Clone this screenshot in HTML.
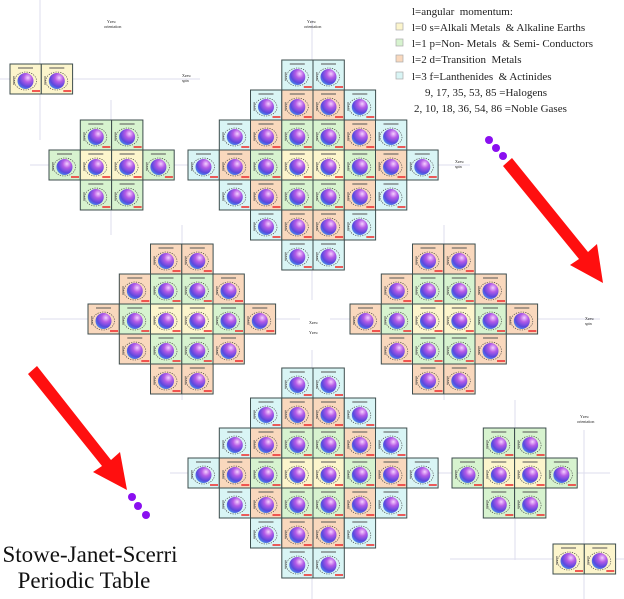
<!DOCTYPE html>
<html><head><meta charset="utf-8"><style>
html,body{margin:0;padding:0;background:#fff;width:624px;height:599px;overflow:hidden}
svg{display:block}
</style></head><body>
<svg width="624" height="599" viewBox="0 0 624 599" xmlns="http://www.w3.org/2000/svg" xmlns:xlink="http://www.w3.org/1999/xlink">
<defs>
<radialGradient id="g" cx="0.65" cy="0.3" r="0.75"><stop offset="0" stop-color="#f6d0ff"/><stop offset="0.35" stop-color="#b45be6"/><stop offset="0.75" stop-color="#5a48de"/><stop offset="1" stop-color="#4a8ae8"/></radialGradient>
<g id="blob">
<ellipse cx="15.5" cy="17" rx="11" ry="9" fill="none" stroke="#333" stroke-width="0.6" stroke-dasharray="1.2 1.2"/>
<circle cx="15.5" cy="17" r="8" fill="url(#g)"/>
<rect x="8" y="3" width="15" height="2" fill="#555" opacity="0.5"/>
<rect x="22" y="26" width="8" height="2" fill="#e33" opacity="0.8"/>
<rect x="3" y="12" width="1.5" height="9" fill="#444" opacity="0.5"/>
</g>
<symbol id="C" overflow="visible"><rect x="0" y="0" width="31.3" height="30" fill="#d9f5f5" stroke="#3d4d4d" stroke-width="1"/><use xlink:href="#blob"/></symbol>
<symbol id="O" overflow="visible"><rect x="0" y="0" width="31.3" height="30" fill="#f9d8bd" stroke="#3d4d4d" stroke-width="1"/><use xlink:href="#blob"/></symbol>
<symbol id="G" overflow="visible"><rect x="0" y="0" width="31.3" height="30" fill="#d7f3cf" stroke="#3d4d4d" stroke-width="1"/><use xlink:href="#blob"/></symbol>
<symbol id="Y" overflow="visible"><rect x="0" y="0" width="31.3" height="30" fill="#fcf5cc" stroke="#3d4d4d" stroke-width="1"/><use xlink:href="#blob"/></symbol>
</defs>

<g stroke="#dde" stroke-width="1">
<line x1="0" y1="79" x2="200" y2="79"/><line x1="40" y1="0" x2="40" y2="140"/>
<line x1="30" y1="165" x2="200" y2="165"/><line x1="111" y1="100" x2="111" y2="235"/>
<line x1="170" y1="165" x2="470" y2="165"/><line x1="312" y1="20" x2="312" y2="300"/>
<line x1="40" y1="319" x2="300" y2="319"/><line x1="182" y1="225" x2="182" y2="400"/>
<line x1="330" y1="319" x2="600" y2="319"/><line x1="444" y1="225" x2="444" y2="400"/>
<line x1="170" y1="473" x2="470" y2="473"/><line x1="312" y1="350" x2="312" y2="599"/>
<line x1="440" y1="473" x2="610" y2="473"/><line x1="515" y1="400" x2="515" y2="560"/>
<line x1="450" y1="559" x2="624" y2="559"/><line x1="584" y1="430" x2="584" y2="599"/>
</g>

<use xlink:href="#Y" x="10" y="64"/><use xlink:href="#Y" x="41.3" y="64"/>
<use xlink:href="#G" x="80.3" y="120"/><use xlink:href="#G" x="111.6" y="120"/>
<use xlink:href="#G" x="49" y="150"/><use xlink:href="#Y" x="80.3" y="150"/><use xlink:href="#Y" x="111.6" y="150"/><use xlink:href="#G" x="142.9" y="150"/>
<use xlink:href="#G" x="80.3" y="180"/><use xlink:href="#G" x="111.6" y="180"/>

<use xlink:href="#C" x="281.8" y="60"/><use xlink:href="#C" x="313" y="60"/>
<use xlink:href="#C" x="250.5" y="90"/><use xlink:href="#O" x="281.8" y="90"/><use xlink:href="#O" x="313" y="90"/><use xlink:href="#C" x="344.3" y="90"/>
<use xlink:href="#C" x="219.3" y="120"/><use xlink:href="#O" x="250.5" y="120"/><use xlink:href="#G" x="281.8" y="120"/><use xlink:href="#G" x="313" y="120"/><use xlink:href="#O" x="344.3" y="120"/><use xlink:href="#C" x="375.5" y="120"/>
<use xlink:href="#C" x="188" y="150"/><use xlink:href="#O" x="219.3" y="150"/><use xlink:href="#G" x="250.5" y="150"/><use xlink:href="#Y" x="281.8" y="150"/><use xlink:href="#Y" x="313" y="150"/><use xlink:href="#G" x="344.3" y="150"/><use xlink:href="#O" x="375.5" y="150"/><use xlink:href="#C" x="406.8" y="150"/>
<use xlink:href="#C" x="219.3" y="180"/><use xlink:href="#O" x="250.5" y="180"/><use xlink:href="#G" x="281.8" y="180"/><use xlink:href="#G" x="313" y="180"/><use xlink:href="#O" x="344.3" y="180"/><use xlink:href="#C" x="375.5" y="180"/>
<use xlink:href="#C" x="250.5" y="210"/><use xlink:href="#O" x="281.8" y="210"/><use xlink:href="#O" x="313" y="210"/><use xlink:href="#C" x="344.3" y="210"/>
<use xlink:href="#C" x="281.8" y="240"/><use xlink:href="#C" x="313" y="240"/>

<use xlink:href="#C" x="281.8" y="368"/><use xlink:href="#C" x="313" y="368"/>
<use xlink:href="#C" x="250.5" y="398"/><use xlink:href="#O" x="281.8" y="398"/><use xlink:href="#O" x="313" y="398"/><use xlink:href="#C" x="344.3" y="398"/>
<use xlink:href="#C" x="219.3" y="428"/><use xlink:href="#O" x="250.5" y="428"/><use xlink:href="#G" x="281.8" y="428"/><use xlink:href="#G" x="313" y="428"/><use xlink:href="#O" x="344.3" y="428"/><use xlink:href="#C" x="375.5" y="428"/>
<use xlink:href="#C" x="188" y="458"/><use xlink:href="#O" x="219.3" y="458"/><use xlink:href="#G" x="250.5" y="458"/><use xlink:href="#Y" x="281.8" y="458"/><use xlink:href="#Y" x="313" y="458"/><use xlink:href="#G" x="344.3" y="458"/><use xlink:href="#O" x="375.5" y="458"/><use xlink:href="#C" x="406.8" y="458"/>
<use xlink:href="#C" x="219.3" y="488"/><use xlink:href="#O" x="250.5" y="488"/><use xlink:href="#G" x="281.8" y="488"/><use xlink:href="#G" x="313" y="488"/><use xlink:href="#O" x="344.3" y="488"/><use xlink:href="#C" x="375.5" y="488"/>
<use xlink:href="#C" x="250.5" y="518"/><use xlink:href="#O" x="281.8" y="518"/><use xlink:href="#O" x="313" y="518"/><use xlink:href="#C" x="344.3" y="518"/>
<use xlink:href="#C" x="281.8" y="548"/><use xlink:href="#C" x="313" y="548"/>

<use xlink:href="#O" x="150.5" y="244"/><use xlink:href="#O" x="181.8" y="244"/>
<use xlink:href="#O" x="119.3" y="274"/><use xlink:href="#G" x="150.5" y="274"/><use xlink:href="#G" x="181.8" y="274"/><use xlink:href="#O" x="213" y="274"/>
<use xlink:href="#O" x="88" y="304"/><use xlink:href="#G" x="119.3" y="304"/><use xlink:href="#Y" x="150.5" y="304"/><use xlink:href="#Y" x="181.8" y="304"/><use xlink:href="#G" x="213" y="304"/><use xlink:href="#O" x="244.3" y="304"/>
<use xlink:href="#O" x="119.3" y="334"/><use xlink:href="#G" x="150.5" y="334"/><use xlink:href="#G" x="181.8" y="334"/><use xlink:href="#O" x="213" y="334"/>
<use xlink:href="#O" x="150.5" y="364"/><use xlink:href="#O" x="181.8" y="364"/>

<use xlink:href="#O" x="412.5" y="244"/><use xlink:href="#O" x="443.8" y="244"/>
<use xlink:href="#O" x="381.3" y="274"/><use xlink:href="#G" x="412.5" y="274"/><use xlink:href="#G" x="443.8" y="274"/><use xlink:href="#O" x="475" y="274"/>
<use xlink:href="#O" x="350" y="304"/><use xlink:href="#G" x="381.3" y="304"/><use xlink:href="#Y" x="412.5" y="304"/><use xlink:href="#Y" x="443.8" y="304"/><use xlink:href="#G" x="475" y="304"/><use xlink:href="#O" x="506.3" y="304"/>
<use xlink:href="#O" x="381.3" y="334"/><use xlink:href="#G" x="412.5" y="334"/><use xlink:href="#G" x="443.8" y="334"/><use xlink:href="#O" x="475" y="334"/>
<use xlink:href="#O" x="412.5" y="364"/><use xlink:href="#O" x="443.8" y="364"/>

<use xlink:href="#G" x="483.3" y="428"/><use xlink:href="#G" x="514.6" y="428"/>
<use xlink:href="#G" x="452" y="458"/><use xlink:href="#Y" x="483.3" y="458"/><use xlink:href="#Y" x="514.6" y="458"/><use xlink:href="#G" x="545.9" y="458"/>
<use xlink:href="#G" x="483.3" y="488"/><use xlink:href="#G" x="514.6" y="488"/>
<use xlink:href="#Y" x="553" y="544"/><use xlink:href="#Y" x="584.3" y="544"/>

<g font-family="Liberation Serif, serif" font-size="4" fill="#222">
<text x="107" y="23">Yzeu</text><text x="104" y="28">orientation</text>
<text x="307" y="23">Yzeu</text><text x="304" y="28">orientation</text>
<text x="182" y="77">Xzeu</text><text x="182" y="82">spin</text>
<text x="455" y="163">Xzeu</text><text x="455" y="168">spin</text>
<text x="309" y="324">Xzeu</text><text x="309" y="334">Yzeu</text>
<text x="585" y="320">Xzeu</text><text x="585" y="325">spin</text>
<text x="580" y="418">Yzeu</text><text x="577" y="423">orientation</text>
</g>

<g font-family="Liberation Serif, serif" font-size="11" fill="#222">
<text x="412" y="15">l=angular&#160; momentum:</text>
<rect x="396" y="23" width="7" height="7" fill="#fcf5cc" stroke="#aaa" stroke-width="0.7"/>
<text x="412" y="31">l=0 s=Alkali Metals&#160; &amp; Alkaline Earths</text>
<rect x="396" y="39" width="7" height="7" fill="#d7f3cf" stroke="#aaa" stroke-width="0.7"/>
<text x="412" y="47">l=1 p=Non- Metals&#160; &amp; Semi- Conductors</text>
<rect x="396" y="55" width="7" height="7" fill="#f9d8bd" stroke="#aaa" stroke-width="0.7"/>
<text x="412" y="63">l=2 d=Transition&#160; Metals</text>
<rect x="396" y="72" width="7" height="7" fill="#d9f5f5" stroke="#aaa" stroke-width="0.7"/>
<text x="412" y="80">l=3 f=Lanthenides&#160; &amp; Actinides</text>
<text x="425" y="96">9, 17, 35, 53, 85 =Halogens</text>
<text x="414" y="112">2, 10, 18, 36, 54, 86 =Noble Gases</text>
</g>

<g fill="#ff0f0f">
<polygon points="503,166 512,158 588,252 597,244 603,283 570,265 579,259"/>
<polygon points="28,374 37,366 111,460 120,452 127,490 93,472 102,466"/>
</g>
<g fill="#8a0ff0">
<circle cx="489" cy="140" r="4"/><circle cx="496" cy="148" r="4"/><circle cx="503" cy="156" r="4"/>
<circle cx="132" cy="497" r="4"/><circle cx="138" cy="506" r="4"/><circle cx="146" cy="515" r="4"/>
</g>

<g font-family="Liberation Serif, serif" font-size="23" fill="#111" text-anchor="middle">
<text x="90" y="562">Stowe-Janet-Scerri</text>
<text x="84" y="588">Periodic Table</text>
</g>
</svg>
</body></html>
